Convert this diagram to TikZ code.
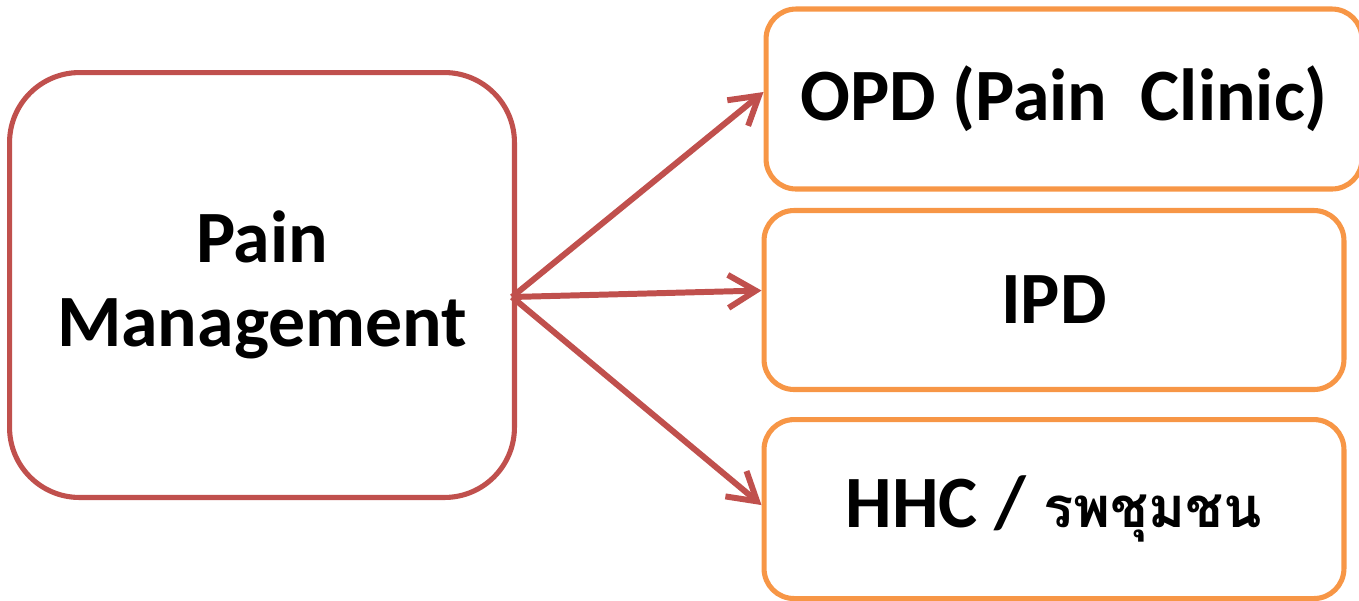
\documentclass[tikz,border=0pt]{standalone}
\usepackage{fontspec}
\setmainfont{Carlito}
\newfontfamily\thaifont[Script=Thai]{Loma}
\usetikzlibrary{arrows.meta, positioning}
\definecolor{painred}{HTML}{C0504D}
\definecolor{unitorange}{HTML}{F79646}

\begin{document}
\begin{tikzpicture}[
    x=0.02cm, y=-0.02cm,
    node distance=0.5cm,
    hub/.style={rectangle, draw=painred, line width=2.9pt, rounded corners=1.4cm,
                minimum width=10.1cm, minimum height=8.5cm, align=center,
                font=\fontsize{42}{48}\selectfont\bfseries},
    unit/.style={rectangle, draw=unitorange, line width=2.9pt, rounded corners=0.6cm,
                 minimum width=11.6cm, minimum height=3.58cm,
                 font=\fontsize{42}{48}\selectfont\bfseries},
    arr/.style={-{Straight Barb[length=0.55cm, width=0.66cm]}, line width=3.4pt, color=painred}
  ]
    \useasboundingbox (0,0) rectangle (1359,600);

    \node[hub] (pm) at (262,285) {Pain\\Management};

    \node[unit] (ipd) at (1054,300) {IPD};
    \node[unit, minimum width=11.92cm, minimum height=3.6cm] (opd) at (1064,99) {OPD (Pain\ \ Clinic)};
    \node[unit, below=of ipd] (hhc) {HHC /\ {\thaifont\fontsize{32}{40}\selectfont\bfseries รพชุมชน}};

    % the three arrows fan out from one point on the box edge
    \coordinate (fork) at (512,297);
    \draw[arr] (fork) -- ([yshift=0.14cm]opd.west);
    \draw[arr] (fork) -- ([yshift=0.19cm]ipd.west);
    \draw[arr] (fork) -- ([yshift=0.08cm]hhc.west);
  \end{tikzpicture}
\end{document}
